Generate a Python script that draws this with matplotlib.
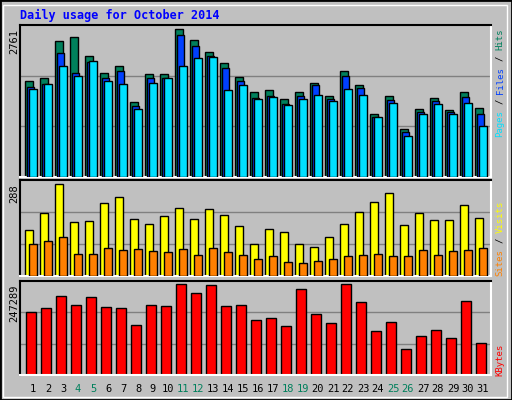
import matplotlib
matplotlib.use("Agg")
import matplotlib.pyplot as plt
from matplotlib.patches import Rectangle

days = list(range(1, 32))
day_labels = [str(d) for d in days]
weekend = {4, 5, 11, 12, 18, 19, 25, 26}
hits = [1805,1843,2536,2611,2255,1955,2068,1412,1918,1936,2761,2555,2330,2124,1880,1599,1637,1468,1599,1768,1524,1974,1730,1187,1524,906,1281,1487,1262,1599,1299]
files = [1693,1749,2311,1955,2149,1861,1974,1337,1843,1843,2649,2442,2255,2030,1787,1487,1524,1374,1524,1712,1468,1899,1674,1131,1449,850,1224,1430,1224,1505,1187]
pages = [1655,1749,2068,1899,2161,1787,1749,1281,1768,1843,2068,2218,2236,1637,1730,1468,1505,1356,1468,1543,1430,1655,1543,1131,1393,775,1187,1374,1187,1393,962]
visits = [144,197,288,169,172,229,247,178,163,188,213,178,210,191,157,100,147,138,100,91,122,163,200,232,260,160,197,175,175,222,182]
sites = [100,110,122,69,69,88,81,85,78,75,85,66,88,75,66,53,63,44,41,47,53,63,66,69,63,63,81,66,78,81,88]
kbytes = [171196,182066,214675,190218,211957,184783,182066,135870,190218,187501,247289,222827,244564,187501,190218,149457,154892,133153,233696,165761,141305,247289,198370,119566,144022,70652,105979,122283,100544,201088,86957]

W, H = 512, 400
BG = "#C0C0C0"
fig = plt.figure(figsize=(W/100, H/100), dpi=100, facecolor=BG)
fig.patches.append(Rectangle((0, 0), 1, 1, transform=fig.transFigure, fill=False, edgecolor="black", lw=2))
fig.patches.append(Rectangle((3/W, 3/H), (W-8)/W, (H-8)/H, transform=fig.transFigure, fill=False, edgecolor="white", lw=1))

def ax_px(x0, y0, x1, y1):
    a = fig.add_axes([x0/W, 1-y1/H, (x1-x0)/W, (y1-y0)/H])
    a.set_facecolor(BG)
    a.set_xlim(0.133, 31.53)
    a.set_xticks([]); a.set_yticks([])
    a.spines['left'].set_color('black'); a.spines['top'].set_color('black')
    a.spines['right'].set_color('white'); a.spines['bottom'].set_color('white')
    for s in a.spines.values():
        s.set_linewidth(1.5)
    return a

def grid(a, top):
    for f in (1/3, 2/3):
        a.axhline(top*f, color="#808080", lw=1, zorder=0)

mono = "DejaVu Sans Mono"
ec = dict(edgecolor="black", linewidth=1)

a1 = ax_px(20, 25, 491, 177)
top1 = max(hits) * 1.03
a1.set_ylim(0, top1); grid(a1, top1)
a1.bar([d - 0.51 for d in days], hits, width=0.49, align='edge', color="#00805C", **ec, zorder=2)
a1.bar([d - 0.40 for d in days], files, width=0.49, align='edge', color="#0040FF", **ec, zorder=3)
a1.bar([d - 0.25 for d in days], pages, width=0.49, align='edge', color="#00E0FF", **ec, zorder=4)

a2 = ax_px(20, 180, 491, 276)
top2 = max(visits) * 1.047
a2.set_ylim(0, top2); grid(a2, top2)
a2.bar([d - 0.51 for d in days], visits, width=0.53, align='edge', color="#FFFF00", **ec, zorder=2)
a2.bar([d - 0.25 for d in days], sites, width=0.49, align='edge', color="#FF8000", **ec, zorder=3)

a3 = ax_px(20, 281, 491, 375)
top3 = max(kbytes) * 1.036
a3.set_ylim(0, top3); grid(a3, top3)
a3.bar([d - 0.47 for d in days], kbytes, width=0.7, align='edge', color="#FF0000", **ec, zorder=2)

def T(x, y, s, **kw):
    fig.text(x/W, 1-y/H, s, family=mono, **kw)

T(20, 15, "Daily usage for October 2014", color="#0000FF", fontsize=8.5, fontweight="bold", va="center")
T(14, 29, str(max(hits)), rotation=90, fontsize=7.5, ha="center", va="top")
T(14, 184, str(max(visits)), rotation=90, fontsize=7.5, ha="center", va="top")
T(14, 284, str(max(kbytes)), rotation=90, fontsize=7.5, ha="center", va="top")

for d, lab in zip(days, day_labels):
    T(33 + (d-1)*15, 389, lab, fontsize=7.5, ha="center", va="center",
      color="#00805C" if d in weekend else "black")

def vstack(x, ybottom, parts, fs=6.5):
    step = 0.602 * fs * 100 / 72
    y = ybottom
    for s, c in parts:
        n = len(s)
        s2 = s.strip()
        lead = len(s) - len(s.lstrip())
        T(x, y - lead*step, s2, color=c, rotation=90, fontsize=fs, ha="center", va="bottom")
        y -= step * n

vstack(500, 137, [("Pages", "#00E0FF"), (" / ", "black"), ("Files", "#0040FF"), (" / ", "black"), ("Hits", "#00805C")])
vstack(500, 276, [("Sites", "#FF8000"), (" / ", "black"), ("Visits", "#FFFF00")])
vstack(500, 376, [("KBytes", "#FF0000")])

fig.savefig("out.png", dpi=100, facecolor=BG)
